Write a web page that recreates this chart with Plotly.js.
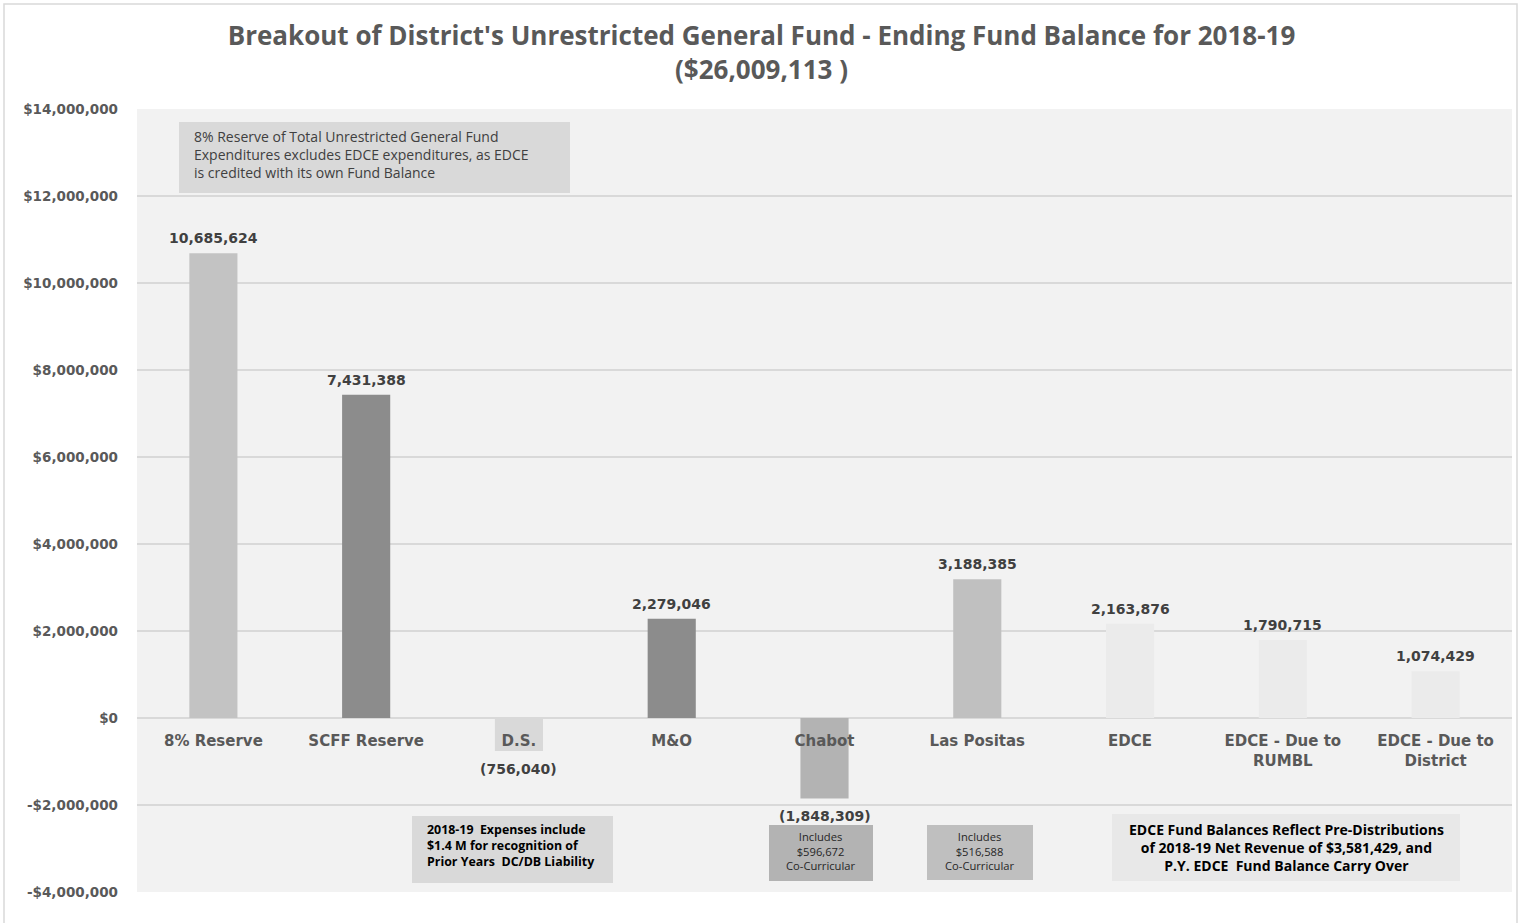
<!DOCTYPE html>
<html>
<head>
<meta charset="utf-8">
<script src="https://cdn.plot.ly/plotly-3.0.1.min.js"></script>
<style>
html,body{margin:0;padding:0;background:#fff;}
#chart{width:1523px;height:923px;}
</style>
</head>
<body>
<div id="chart"></div>
<script>
// ---- data ----
const categories = ["8% Reserve", "SCFF Reserve", "D.S.", "M&O", "Chabot", "Las Positas", "EDCE", "EDCE - Due to<br>RUMBL", "EDCE - Due to<br>District"];
const values = [10685624, 7431388, -756040, 2279046, -1848309, 3188385, 2163876, 1790715, 1074429];
const barColors = ["#c3c3c3", "#8c8c8c", "#d9d9d9", "#8c8c8c", "#b3b3b3", "#c0c0c0", "#ebebeb", "#ebebeb", "#ebebeb"];
const yTickVals = [-4000000, -2000000, 0, 2000000, 4000000, 6000000, 8000000, 10000000, 12000000, 14000000];
const yTickText = ["-$4,000,000", "-$2,000,000", "$0", "$2,000,000", "$4,000,000", "$6,000,000", "$8,000,000", "$10,000,000", "$12,000,000", "$14,000,000"];
const titleText = "Breakout of District's Unrestricted General Fund - Ending Fund Balance for 2018-19<br>($26,009,113 )";
const note1 = "8% Reserve of Total Unrestricted General Fund<br>Expenditures excludes EDCE expenditures, as EDCE<br>is credited with its own Fund Balance";
const note2 = "2018-19  Expenses include<br>$1.4 M for recognition of<br>Prior Years  DC/DB Liability";
const note3 = "Includes<br>$596,672<br>Co-Curricular";
const note4 = "Includes<br>$516,588<br>Co-Curricular";
const note5 = "EDCE Fund Balances Reflect Pre-Distributions<br>of 2018-19 Net Revenue of $3,581,429, and<br>P.Y. EDCE  Fund Balance Carry Over";

function fmt(v){
  const s = Math.abs(v).toLocaleString('en-US');
  return v < 0 ? "(" + s + ")" : s;
}
const labels = values.map(fmt);

// ---- layout helpers (pixel -> paper) ----
const W = 1523, H = 923;
const M = {l:137, r:11, t:109, b:31};
const PW = W - M.l - M.r, PH = H - M.t - M.b;
const px = x => (x - M.l) / PW;
const py = y => (H - M.b - y) / PH;

const boldFont = "DejaVu Sans";
const boxFont = "Open Sans";

function box(x0, y0, x1, y1, color){
  return {type:'rect', xref:'paper', yref:'paper', x0:px(x0), x1:px(x1), y0:py(y1), y1:py(y0),
          fillcolor:color, line:{width:0}, layer:'above'};
}

const trace = {
  type:'bar',
  x: categories,
  y: values,
  marker:{color: barColors, line:{width:0}},
  width: 0.315,
  hoverinfo:'skip'
};

// value labels placed at each bar's end via data coordinates
const valueLabels = categories.map((c, i) => ({
  xref:'x', yref:'y', x:c, y:values[i],
  text: labels[i], showarrow:false,
  xanchor:'center',
  yanchor: values[i] < 0 ? 'top' : 'bottom',
  yshift: values[i] < 0 ? -8 : 5,
  font:{family:boldFont, size:14, color:'#404040', weight:'bold'}
}));

const layout = {
  width:W, height:H,
  margin:M,
  paper_bgcolor:'#ffffff',
  plot_bgcolor:'#f2f2f2',
  showlegend:false,
  hovermode:false,
  title:{
    text: titleText,
    x:0.5, xref:'container', xanchor:'center',
    y: 1 - 45/H, yref:'container', yanchor:'middle',
    font:{family:boxFont, size:26, color:'#595959', weight:'bold'}
  },
  xaxis:{
    type:'category',
    anchor:'free',
    position: 4/18,
    showgrid:false,
    showline:false,
    zeroline:false,
    ticks:'',
    ticklabelstandoff:12,
    tickfont:{family:boldFont, size:15, color:'#595959', weight:'bold'},
    layer:'above traces',
    fixedrange:true
  },
  yaxis:{
    range:[-4000000, 14000000],
    tickvals: yTickVals,
    ticktext: yTickText,
    showgrid:true,
    gridcolor:'#d9d9d9',
    gridwidth:2,
    zeroline:true,
    zerolinecolor:'#d9d9d9',
    zerolinewidth:2,
    showline:false,
    ticks:'',
    ticklabelstandoff:18,
    tickfont:{family:boldFont, size:13.5, color:'#595959', weight:'bold'},
    fixedrange:true
  },
  shapes:[
    {type:'rect', xref:'paper', yref:'paper', x0:px(4), x1:px(1517), y0:py(940), y1:py(4),
     fillcolor:'rgba(0,0,0,0)', line:{color:'#d9d9d9', width:1.5}, layer:'below'},
    box(179,122,570,193,'#d9d9d9'),
    box(412,816,613,883,'#d9d9d9'),
    box(769,825,873,881,'#b3b3b3'),
    box(927,825,1033,880,'#bfbfbf'),
    box(1112,814,1460,881,'#e8e8e8')
  ],
  annotations: valueLabels.concat([
    {xref:'paper', yref:'paper', x:px(192), y:py(154), xanchor:'left', yanchor:'middle', align:'left',
     text:note1, showarrow:false, font:{family:boxFont, size:14, color:'#404040'}},
    {xref:'paper', yref:'paper', x:px(425), y:py(845), xanchor:'left', yanchor:'middle', align:'left',
     text:note2, showarrow:false, font:{family:boxFont, size:12.4, color:'#000000', weight:'bold'}},
    {xref:'paper', yref:'paper', x:px(821), y:py(851), xanchor:'center', yanchor:'middle', align:'center',
     text:note3, showarrow:false, font:{family:boxFont, size:11.2, color:'#262626'}},
    {xref:'paper', yref:'paper', x:px(980), y:py(851), xanchor:'center', yanchor:'middle', align:'center',
     text:note4, showarrow:false, font:{family:boxFont, size:11.2, color:'#262626'}},
    {xref:'paper', yref:'paper', x:px(1286), y:py(847), xanchor:'center', yanchor:'middle', align:'center',
     text:note5, showarrow:false, font:{family:boxFont, size:14, color:'#000000', weight:'bold'}}
  ])
};

Plotly.newPlot('chart', [trace], layout, {displayModeBar:false, staticPlot:true});
</script>
</body>
</html>
